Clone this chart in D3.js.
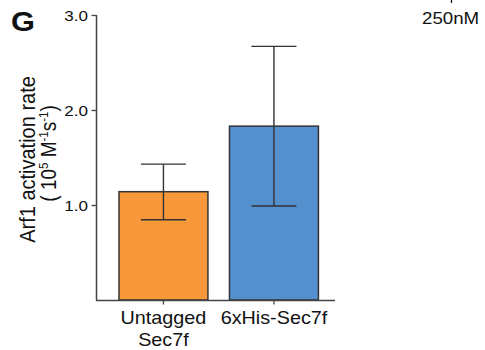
<!DOCTYPE html>
<html><head><meta charset="utf-8">
<script src="https://cdn.jsdelivr.net/npm/d3@7"></script>
<style>body{margin:0;background:#fff}svg{display:block}text{font-family:"Liberation Sans",Arial,sans-serif;fill:#111}</style>
</head><body>
<svg id="c" width="485" height="350"></svg>
<script>
const categories = [["Untagged","Sec7f"],["6xHis-Sec7f"]];
const catKeys = ["Untagged Sec7f","6xHis-Sec7f"];
const means = [1.14, 1.83];
const errLow = [0.845, 0.99];
const errHigh = [1.43, 2.67];
const yTicks = [1.0, 2.0, 3.0];
const colors = ["#F7993B","#5490CD"];

const svg = d3.select("#c");
const SX = 1.1;
const x = d3.scaleBand().domain(catKeys).range([96, 341.4]).paddingInner(0.195).paddingOuter(0.208);
const y = d3.scaleLinear().domain([0,3]).range([300,15]);

function stext(px, py, str, size, anchor, weight){
  const g = svg.append("g").attr("transform",`translate(${px},${py}) scale(${SX},1)`);
  return g.append("text").attr("text-anchor",anchor||"start").attr("font-size",size).attr("font-weight",weight||"normal").text(str);
}

// bars
svg.selectAll("rect.bar").data(means).enter().append("rect")
  .attr("x",(d,i)=>x(catKeys[i])).attr("width",x.bandwidth())
  .attr("y",d=>y(d)).attr("height",d=>y(0)-y(d))
  .attr("fill",(d,i)=>colors[i]).attr("stroke","#333").attr("stroke-width",1.5);

// error bars
const cap = 45;
means.forEach((m,i)=>{
  const cx = x(catKeys[i]) + x.bandwidth()/2;
  svg.append("line").attr("x1",cx).attr("x2",cx).attr("y1",y(errLow[i])).attr("y2",y(errHigh[i])).attr("stroke","#333").attr("stroke-width",1.4);
  [errLow[i],errHigh[i]].forEach(v=>svg.append("line").attr("x1",cx-cap/2).attr("x2",cx+cap/2).attr("y1",y(v)).attr("y2",y(v)).attr("stroke","#333").attr("stroke-width",1.4));
});

// y axis
const ya = svg.append("g").attr("transform","translate(96.5,0)")
  .call(d3.axisLeft(y).tickValues(yTicks).tickSize(5).tickFormat(""));
ya.select(".domain").remove();
ya.selectAll(".tick line").attr("stroke","#444").attr("stroke-width",1.3);
svg.append("line").attr("x1",96.5).attr("x2",96.5).attr("y1",y(3)).attr("y2",300.5).attr("stroke","#444").attr("stroke-width",1.5);
yTicks.forEach(v=>stext(88, y(v)+5.8, d3.format(".1f")(v), 15.5, "end"));

// x axis
const xa = svg.append("g").attr("transform","translate(0,300.5)")
  .call(d3.axisBottom(x).tickSize(4).tickFormat(""));
xa.select(".domain").remove();
xa.selectAll(".tick line").attr("stroke","#444").attr("stroke-width",1.3);
svg.append("line").attr("x1",96).attr("x2",335).attr("y1",300.5).attr("y2",300.5).attr("stroke","#444").attr("stroke-width",1.5);
categories.forEach((lines,i)=>{
  const cx = x(catKeys[i]) + x.bandwidth()/2;
  lines.forEach((ln,j)=>stext(cx, 324 + j*22, ln, 18, "middle"));
});

// y label
const yl = svg.append("g").attr("transform","translate(35,159.5) rotate(-90) scale(1,1.12)");
yl.append("text").attr("text-anchor","middle").attr("font-size",20).text("Arf1 activation rate");
const yl2 = svg.append("g").attr("transform","translate(56,153.5) rotate(-90) scale(1,1.12)");
const t2 = yl2.append("text").attr("text-anchor","middle").attr("font-size",19);
t2.append("tspan").text("( 10");
t2.append("tspan").attr("font-size",11.5).attr("dy",-7.5).text("5");
t2.append("tspan").attr("dy",7.5).text(" M");
t2.append("tspan").attr("font-size",11.5).attr("dy",-7.5).text("-1");
t2.append("tspan").attr("dy",7.5).text("s");
t2.append("tspan").attr("font-size",11.5).attr("dy",-7.5).text("-1");
t2.append("tspan").attr("dy",7.5).text(")");

// panel letter and corner text
stext(11, 30.5, "G", 28, "start", "bold");
stext(422, 23.5, "250nM", 17, "start");
// descender of a cropped text line above the frame
svg.append("path").attr("d","M451.5,0 V3").attr("stroke","#111").attr("stroke-width",1.3);
</script>
</body></html>
